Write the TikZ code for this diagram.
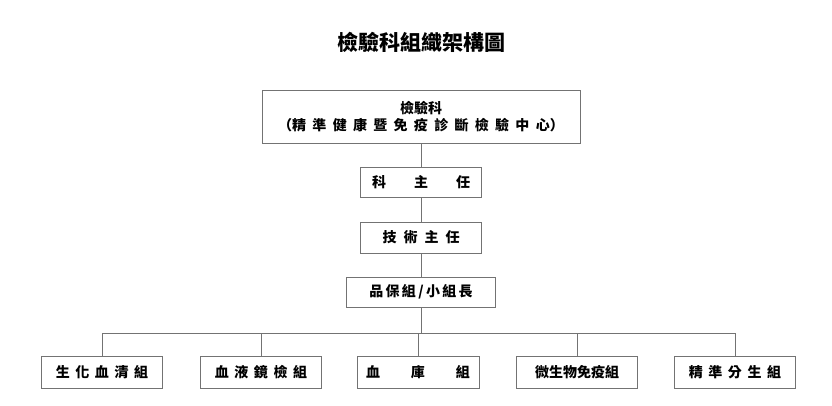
\documentclass[tikz,border=0pt]{standalone}
\usepackage{fontspec}
\setmainfont{Noto Sans CJK TC}
\begin{document}
\begin{tikzpicture}[x=1pt,y=-1pt,
  bx/.style={draw=black!55,line width=1pt,fill=white,inner sep=0pt,font=\fontsize{14}{18}\selectfont\bfseries,align=center},
  ln/.style={draw=black!55,line width=1pt}]
\useasboundingbox (0,0) rectangle (832,405);
\node[font=\fontsize{21}{24}\selectfont\bfseries] (t) at (421,42) {檢驗科組織架構圖};
\node[bx,minimum width=318pt,minimum height=53pt] (a) at (421,116.5) {檢驗科\\[-1pt]（精\hspace{0.45em}準\hspace{0.45em}健\hspace{0.45em}康\hspace{0.45em}暨\hspace{0.45em}免\hspace{0.45em}疫\hspace{0.45em}診\hspace{0.45em}斷\hspace{0.45em}檢\hspace{0.45em}驗\hspace{0.45em}中\hspace{0.45em}心）};
\node[bx,minimum width=121pt,minimum height=30pt] (b) at (421,182) {科\hspace{2em}主\hspace{2em}任};
\node[bx,minimum width=121pt,minimum height=31pt] (c) at (421,237.5) {技\hspace{0.5em}術\hspace{0.5em}主\hspace{0.5em}任};
\node[bx,minimum width=149pt,minimum height=30pt] (d) at (421,292) {品\,保\,組\,/\,小\,組\,長};
\coordinate (h) at (421,333);
\node[bx,minimum width=121pt,minimum height=32pt] (e1) at (102,372) {生\hspace{0.4em}化\hspace{0.4em}血\hspace{0.4em}清\hspace{0.4em}組};
\node[bx,minimum width=121pt,minimum height=32pt] (e2) at (261,372) {血\hspace{0.4em}液\hspace{0.4em}鏡\hspace{0.4em}檢\hspace{0.4em}組};
\node[bx,minimum width=122pt,minimum height=32pt] (e3) at (418,372) {血\hspace{2.2em}庫\hspace{2.2em}組};
\node[bx,minimum width=121pt,minimum height=32pt] (e4) at (577,372) {微生物免疫組};
\node[bx,minimum width=121pt,minimum height=32pt] (e5) at (735,372) {精\hspace{0.4em}準\hspace{0.4em}分\hspace{0.4em}生\hspace{0.4em}組};
\draw[ln] (a) -- (b);
\draw[ln] (b) -- (c);
\draw[ln] (c) -- (d);
\draw[ln] (d) -- (h);
\draw[ln] (e1.north) -- (e1.north |- h) -- (e5.north |- h) -- (e5.north);
\foreach \n in {e2,e3,e4} \draw[ln] (\n.north) -- (\n.north |- h);
\end{tikzpicture}
\end{document}
